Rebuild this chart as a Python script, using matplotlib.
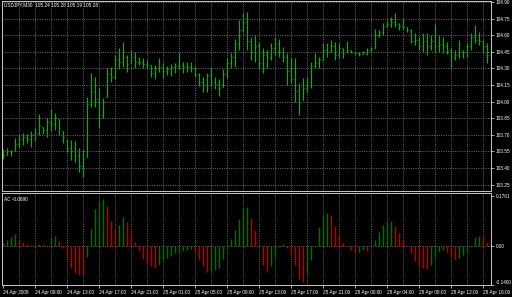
import numpy as np
import matplotlib
matplotlib.use("Agg")
import matplotlib.pyplot as plt

title_text = "USDJPY,M30  105.24 105.28 105.19 105.28"
ac_label = "AC -0.0690"

highs = [103.57,103.58,103.56,103.67,103.71,103.72,103.71,103.73,103.76,103.89,
         103.77,103.85,103.93,103.90,103.84,103.73,103.65,103.65,103.64,103.58,
         103.56,104.04,104.26,104.22,104.12,104.03,104.30,104.31,104.42,104.48,
         104.54,104.42,104.47,104.45,104.40,104.39,104.38,104.33,104.33,104.39,
         104.35,104.32,104.34,104.35,104.44,104.36,104.36,104.36,104.32,104.26,
         104.22,104.26,104.30,104.22,104.20,104.29,104.39,104.44,104.57,104.74,
         104.80,104.81,104.58,104.60,104.54,104.48,104.47,104.53,104.58,104.57,
         104.49,104.44,104.40,104.39,104.17,104.21,104.22,104.36,104.44,104.40,
         104.53,104.53,104.56,104.54,104.53,104.48,104.55,104.47,104.45,104.45,
         104.46,104.48,104.49,104.66,104.65,104.71,104.73,104.76,104.80,104.71,
         104.75,104.67,104.66,104.62,104.58,104.62,104.62,104.60,104.70,104.60,
         104.58,104.54,104.48,104.47,104.56,104.47,104.53,104.62,104.69,104.63,
         104.56,104.53,104.54]
lows = [103.48,103.52,103.51,103.55,103.59,103.61,103.63,103.59,103.64,103.70,
        103.71,103.68,103.73,103.74,103.70,103.63,103.54,103.47,103.45,103.36,
        103.32,103.50,103.95,103.95,103.76,103.85,104.04,104.18,104.20,104.29,
        104.31,104.27,104.35,104.30,104.33,104.30,104.29,104.22,104.20,104.27,
        104.21,104.24,104.23,104.26,104.29,104.26,104.27,104.27,104.22,104.14,
        104.09,104.09,104.14,104.11,104.05,104.13,104.21,104.30,104.31,104.47,
        104.63,104.47,104.38,104.36,104.29,104.26,104.30,104.38,104.42,104.40,
        104.36,104.15,104.17,104.00,103.88,104.01,104.09,104.12,104.30,104.30,
        104.38,104.40,104.45,104.38,104.39,104.39,104.45,104.44,104.43,104.41,
        104.43,104.42,104.45,104.48,104.58,104.60,104.67,104.67,104.67,104.65,
        104.65,104.63,104.53,104.51,104.47,104.45,104.42,104.47,104.45,104.45,
        104.44,104.43,104.30,104.38,104.39,104.39,104.40,104.47,104.53,104.51,
        104.45,104.35,104.39]
opens = [103.50,103.52,103.55,103.55,103.62,103.66,103.68,103.66,103.70,103.72,
         103.77,103.74,103.82,103.80,103.84,103.73,103.65,103.58,103.55,103.52,
         103.42,103.50,103.98,104.10,104.02,103.88,104.04,104.25,104.22,104.38,
         104.36,104.40,104.35,104.40,104.36,104.36,104.34,104.33,104.26,104.30,
         104.31,104.28,104.29,104.31,104.32,104.33,104.32,104.31,104.30,104.25,
         104.18,104.15,104.24,104.18,104.16,104.13,104.25,104.35,104.40,104.52,
         104.65,104.72,104.55,104.45,104.50,104.35,104.42,104.40,104.48,104.52,
         104.45,104.40,104.28,104.20,104.10,104.01,104.12,104.18,104.32,104.35,
         104.38,104.47,104.45,104.50,104.42,104.48,104.45,104.47,104.45,104.44,
         104.43,104.45,104.47,104.48,104.60,104.63,104.68,104.70,104.72,104.70,
         104.68,104.67,104.65,104.55,104.56,104.50,104.55,104.50,104.55,104.50,
         104.52,104.50,104.47,104.40,104.42,104.45,104.45,104.50,104.58,104.56,
         104.55,104.50,104.42]
closes = [103.52,103.55,103.54,103.62,103.66,103.68,103.66,103.70,103.72,103.78,
          103.74,103.82,103.80,103.85,103.76,103.68,103.58,103.55,103.52,103.42,
          103.48,103.98,104.10,104.02,103.88,104.00,104.25,104.22,104.38,104.36,
          104.40,104.34,104.40,104.36,104.36,104.34,104.33,104.26,104.30,104.31,
          104.28,104.29,104.31,104.32,104.33,104.32,104.31,104.30,104.25,104.18,
          104.15,104.24,104.18,104.16,104.12,104.25,104.35,104.40,104.52,104.65,
          104.72,104.55,104.45,104.50,104.35,104.42,104.40,104.48,104.52,104.45,
          104.40,104.28,104.20,104.10,104.00,104.12,104.18,104.32,104.35,104.38,
          104.47,104.45,104.50,104.42,104.48,104.44,104.47,104.45,104.44,104.43,
          104.45,104.47,104.48,104.60,104.63,104.68,104.70,104.72,104.70,104.68,
          104.67,104.65,104.55,104.56,104.50,104.55,104.50,104.55,104.50,104.52,
          104.50,104.47,104.40,104.42,104.45,104.45,104.50,104.58,104.56,104.55,
          104.50,104.42,104.45]
ac_values = [0.010,0.020,0.032,0.040,0.020,0.012,0.005,0.003,0.002,0.007,
             0.005,0.003,0.026,0.033,0.015,-0.007,-0.045,-0.080,-0.098,-0.104,
             -0.106,-0.039,0.058,0.130,0.159,0.168,0.140,0.088,0.058,0.075,
             0.102,0.084,0.049,0.012,-0.020,-0.048,-0.065,-0.072,-0.080,-0.069,
             -0.050,-0.045,-0.035,-0.027,-0.024,-0.020,-0.016,-0.013,-0.022,-0.050,
             -0.072,-0.095,-0.092,-0.085,-0.078,-0.047,-0.012,0.023,0.055,0.096,
             0.134,0.137,0.098,0.055,-0.005,-0.068,-0.094,-0.074,-0.040,-0.005,
             0.006,-0.007,-0.034,-0.070,-0.120,-0.130,-0.102,-0.050,-0.003,0.067,
             0.109,0.117,0.108,0.070,0.043,0.008,-0.002,-0.017,-0.026,-0.024,
             -0.016,-0.018,-0.003,0.020,0.048,0.072,0.086,0.088,0.070,0.046,
             0.020,0.004,-0.026,-0.055,-0.074,-0.078,-0.082,-0.068,-0.040,-0.022,
             -0.015,-0.021,-0.041,-0.051,-0.045,-0.034,-0.021,-0.003,0.032,0.035,
             0.034,0.012,0.005]

price_ticks = [104.90,104.75,104.60,104.45,104.30,104.15,104.00,103.85,103.70,103.55,103.40,103.25]
ac_ticks = [0.1761, 0.00, -0.1400]
ac_tick_labels = ["0.1761", "0.00", "-0.1400"]
time_labels = ["24 Apr 2008","24 Apr 09:00","24 Apr 13:00","24 Apr 17:00","24 Apr 21:00",
               "25 Apr 01:00","25 Apr 05:00","25 Apr 09:00","25 Apr 13:00","25 Apr 17:00",
               "25 Apr 21:00","28 Apr 00:00","28 Apr 04:00","28 Apr 08:00","28 Apr 12:00",
               "28 Apr 16:00"]
label_step = 8
grid_step = 4

BG = "black"
BAR = "#00b400"
ACG = "#006e00"
ACR = "#b00000"
GRID = "#7a7a7a"
AXC = "#c0c0c0"
TXT = "white"
FONT = "Liberation Sans"
FS = 3.4

W, H = 512, 297
fig = plt.figure(figsize=(W / 100, H / 100), dpi=100, facecolor=BG)

def frac(l, t, r, b):
    return [l / W, (H - b) / H, (r - l) / W, (b - t) / H]

ax1 = fig.add_axes(frac(2, 1, 491, 191), facecolor=BG)
ax2 = fig.add_axes(frac(2, 193, 491, 285), facecolor=BG, sharex=ax1)

n = len(highs)
x = np.arange(n)
xlim = (-0.175, 122.075)

for ax in (ax1, ax2):
    for s in ax.spines.values():
        s.set_color(AXC)
        s.set_linewidth(0.75)
    ax.set_xlim(*xlim)
    for g in range(grid_step, n, grid_step):
        ax.axvline(g, color=GRID, lw=0.6, ls=(0, (1.2, 1.6)), zorder=0)

# price pane
for p in price_ticks:
    ax1.axhline(p, color=GRID, lw=0.6, ls=(0, (1.2, 1.6)), zorder=0)
ax1.vlines(x, lows, highs, color=BAR, lw=0.8, zorder=2)
ax1.hlines(opens, x - 0.3, x, color=BAR, lw=0.8, zorder=2)
ax1.hlines(closes, x, x + 0.3, color=BAR, lw=0.8, zorder=2)
ax1.set_ylim(103.192, 104.909)
ax1.yaxis.tick_right()
ax1.set_yticks(price_ticks)
ax1.set_yticklabels([f"{p:.2f}" for p in price_ticks])
ax1.tick_params(axis="y", colors=AXC, labelcolor=TXT, length=2, width=0.6, pad=1.2,
                labelsize=FS)
ax1.tick_params(axis="x", bottom=False, labelbottom=False)
for lab in ax1.get_yticklabels():
    lab.set_fontfamily(FONT)
ax1.text(0.004, 0.993, title_text, transform=ax1.transAxes, color=TXT, fontsize=FS,
         family=FONT, ha="left", va="top")

# AC pane
ac = np.array(ac_values)
up = np.r_[True, np.diff(ac) > 0]
cols = [ACG if u else ACR for u in up]
ax2.axhline(0, color=GRID, lw=0.6, ls=(0, (1.2, 1.6)), zorder=0)
ax2.vlines(x, 0, ac, colors=cols, lw=1.0, zorder=2)
ax2.set_ylim(-0.1400, 0.1877)
ax2.yaxis.tick_right()
ax2.set_yticks(ac_ticks)
ax2.set_yticklabels(ac_tick_labels)
ax2.tick_params(axis="y", colors=AXC, labelcolor=TXT, length=2, width=0.6, pad=1.2,
                labelsize=FS)
for lab in ax2.get_yticklabels():
    lab.set_fontfamily(FONT)
lbls = ax2.get_yticklabels()
lbls[-1].set_va("bottom")
ax2.text(0.004, 0.96, ac_label, transform=ax2.transAxes, color=TXT, fontsize=FS,
         family=FONT, ha="left", va="top")

tick_pos = list(range(0, n, label_step))[:len(time_labels)]
ax2.set_xticks(tick_pos)
ax2.set_xticklabels(time_labels)
ax2.tick_params(axis="x", colors=AXC, labelcolor=TXT, length=2, width=0.6, pad=1.5,
                labelsize=FS)
for lab in ax2.get_xticklabels():
    lab.set_fontfamily(FONT)
    lab.set_ha("left")

fig.savefig("out.png", dpi=100, facecolor=BG)
